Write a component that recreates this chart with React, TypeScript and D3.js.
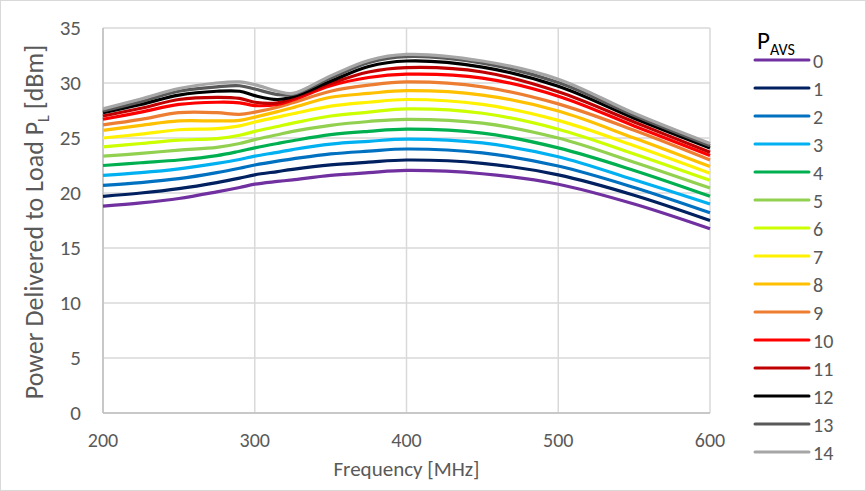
import React from "react";
import * as d3 from "d3";

const freqs = [200, 225, 250, 275, 290, 300, 315, 325, 350, 375, 400, 450, 500, 550, 600];
const seriesNames = ["0", "1", "2", "3", "4", "5", "6", "7", "8", "9", "10", "11", "12", "13", "14"];
const seriesColors = [
  "#7030A0", "#002060", "#0070C0", "#00B0F0", "#00B050", "#92D050", "#CCFF00", "#FFF200",
  "#FFC000", "#ED7D31", "#FF0000", "#C00000", "#000000", "#595959", "#A6A6A6",
];
const s0 = [18.8, 19.1, 19.5, 20.1, 20.5, 20.8, 21.05, 21.2, 21.6, 21.85, 22.05, 21.75, 20.8, 19.0, 16.75];
const s1 = [19.7, 20.0, 20.4, 20.95, 21.35, 21.65, 21.95, 22.15, 22.55, 22.8, 23.0, 22.7, 21.65, 19.8, 17.5];
const s2 = [20.7, 20.95, 21.3, 21.85, 22.25, 22.55, 22.9, 23.1, 23.55, 23.8, 24.0, 23.65, 22.45, 20.5, 18.2];
const s3 = [21.6, 21.85, 22.2, 22.7, 23.05, 23.35, 23.7, 23.95, 24.45, 24.7, 24.9, 24.55, 23.3, 21.2, 19.0];
const s4 = [22.5, 22.75, 23.0, 23.4, 23.8, 24.1, 24.5, 24.75, 25.3, 25.6, 25.8, 25.45, 24.1, 22.05, 19.7];
const s5 = [23.35, 23.6, 23.9, 24.15, 24.5, 24.85, 25.3, 25.6, 26.15, 26.5, 26.7, 26.35, 25.0, 22.8, 20.45];
const s6 = [24.2, 24.5, 24.8, 24.95, 25.25, 25.6, 26.05, 26.35, 27.0, 27.35, 27.65, 27.25, 25.8, 23.55, 21.15];
const s7 = [25.0, 25.35, 25.75, 25.85, 26.1, 26.45, 26.9, 27.2, 27.9, 28.25, 28.5, 28.05, 26.6, 24.3, 21.8];
const s8 = [25.7, 26.15, 26.55, 26.55, 26.6, 26.9, 27.4, 27.75, 28.7, 29.05, 29.3, 28.9, 27.45, 25.0, 22.4];
const s9 = [26.2, 26.7, 27.3, 27.3, 27.15, 27.35, 27.8, 28.2, 29.25, 29.8, 30.1, 29.65, 28.1, 25.7, 23.0];
const s10 = [26.7, 27.35, 28.05, 28.25, 28.2, 27.95, 28.05, 28.45, 29.75, 30.5, 30.8, 30.45, 28.8, 26.1, 23.4];
const s11 = [27.0, 27.7, 28.5, 28.7, 28.6, 28.25, 28.2, 28.6, 29.95, 31.0, 31.4, 31.0, 29.2, 26.45, 23.7];
const s12 = [27.3, 28.05, 28.9, 29.25, 29.25, 28.85, 28.5, 28.75, 30.15, 31.5, 32.0, 31.45, 29.7, 26.8, 24.1];
const s13 = [27.45, 28.3, 29.25, 29.65, 29.75, 29.45, 28.95, 28.95, 30.45, 31.85, 32.4, 31.8, 30.05, 27.05, 24.3];
const s14 = [27.65, 28.55, 29.5, 30.0, 30.1, 29.85, 29.25, 29.05, 30.65, 32.05, 32.6, 32.0, 30.35, 27.25, 24.5];
const seriesValues = [s0, s1, s2, s3, s4, s5, s6, s7, s8, s9, s10, s11, s12, s13, s14];

const xTicks = [200, 300, 400, 500, 600];
const yTicks = [0, 5, 10, 15, 20, 25, 30, 35];

const W = 866;
const H = 491;
const FONT = "Calibri, Carlito, Lato, sans-serif";
const TXT = "#595959";

export default function App() {
  const x = d3.scaleLinear().domain([200, 600]).range([103, 710]);
  const y = d3.scaleLinear().domain([0, 35]).range([413, 28]);
  const line = d3
    .line<number>()
    .x((_, i) => x(freqs[i]))
    .y((d) => y(d))
    .curve(d3.curveCatmullRom.alpha(0.5));

  return (
    <svg
      width={W}
      height={H}
      style={{ position: "absolute", left: 0, top: 0, background: "#fff" }}
      fontFamily={FONT}
    >
      <rect x={0.5} y={0.5} width={W - 1} height={H - 1} fill="#fff" stroke="#D9D9D9" />
      {yTicks.map((t) => (
        <line key={"gy" + t} x1={x(200)} x2={x(600)} y1={y(t)} y2={y(t)} stroke="#D9D9D9" strokeWidth={1.5} />
      ))}
      {xTicks.map((t) => (
        <line key={"gx" + t} x1={x(t)} x2={x(t)} y1={y(0)} y2={y(35)} stroke="#D9D9D9" strokeWidth={1.5} />
      ))}
      <line x1={x(200)} x2={x(200)} y1={y(0)} y2={y(35)} stroke="#BFBFBF" strokeWidth={1.5} />
      <line x1={x(200)} x2={x(600)} y1={y(0)} y2={y(0)} stroke="#BFBFBF" strokeWidth={1.5} />
      {seriesValues.map((vals, i) => (
        <path key={"s" + i} d={line(vals) || ""} fill="none" stroke={seriesColors[i]} strokeWidth={3.2} strokeLinejoin="round" />
      ))}
      {yTicks.map((t) => (
        <text key={"ty" + t} x={81} y={y(t)} dy="0.35em" textAnchor="end" fontSize={21} fill={TXT}>
          {t}
        </text>
      ))}
      {xTicks.map((t) => (
        <text key={"tx" + t} x={x(t)} y={440} dy="0.35em" textAnchor="middle" fontSize={20} fill={TXT}>
          {t}
        </text>
      ))}
      <text x={(x(200) + x(600)) / 2} y={469} dy="0.35em" textAnchor="middle" fontSize={21} fill={TXT}>
        Frequency [MHz]
      </text>
      <text transform={`translate(34, 222) rotate(-90)`} dy="0.35em" textAnchor="middle" fontSize={26} fill={TXT}>
        Power Delivered to Load P<tspan fontSize={16} dy="6">L</tspan>
        <tspan dy="-6"> [dBm]</tspan>
      </text>
      <text x={757} y={49} fontSize={25} fill="#000">
        P<tspan fontSize={16} dy="6">AVS</tspan>
      </text>
      {seriesNames.map((n, i) => {
        const ly = 60 + i * 28;
        return (
          <g key={"lg" + n}>
            <line x1={755} x2={809} y1={ly} y2={ly} stroke={seriesColors[i]} strokeWidth={3} strokeLinecap="round" />
            <text x={813} y={ly} dy="0.4em" fontSize={20} fill={TXT}>
              {n}
            </text>
          </g>
        );
      })}
    </svg>
  );
}
